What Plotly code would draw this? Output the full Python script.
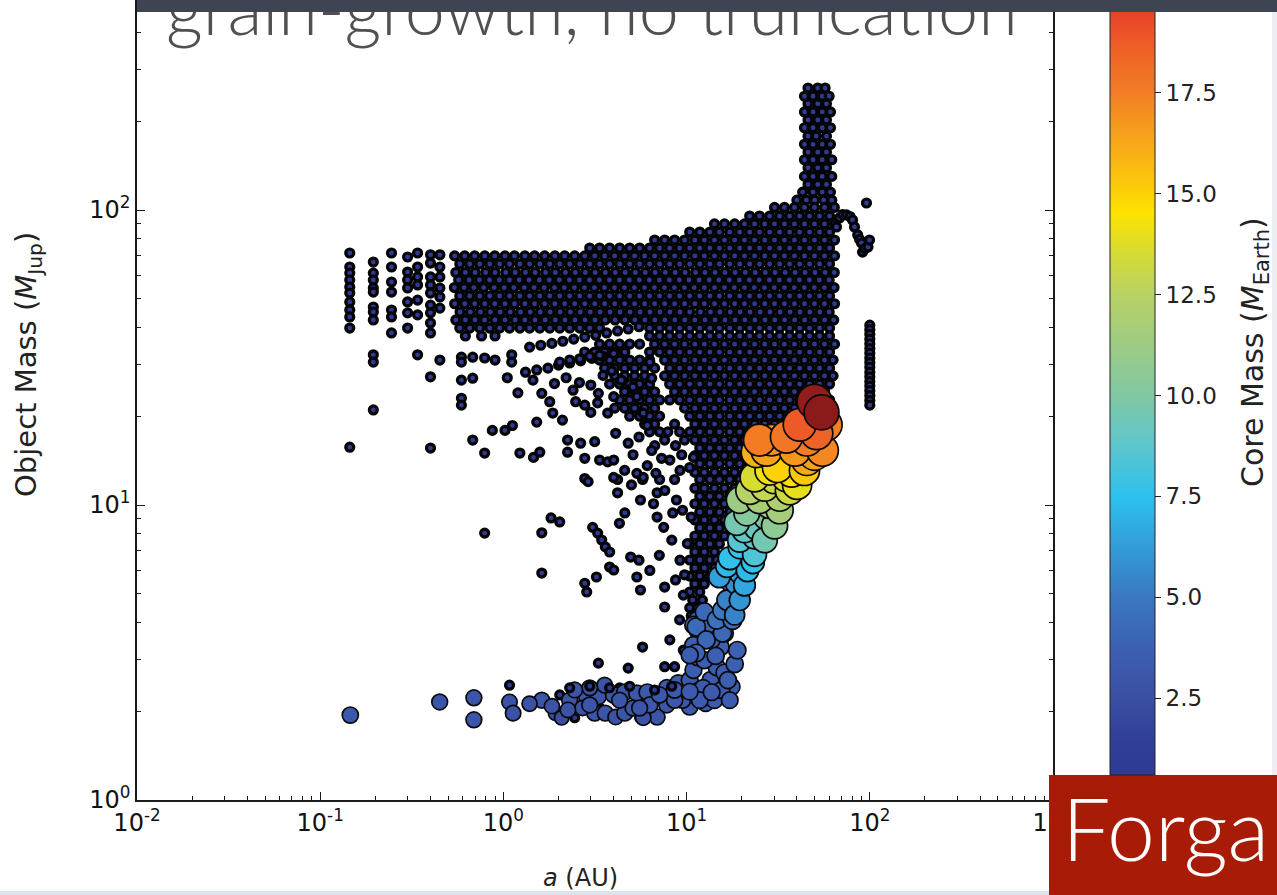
import plotly.graph_objects as go

# ---------------------------------------------------------------- data
XTICK_VALUES = [0.01, 0.1, 1, 10, 100, 1000]
XTICK_LABELS = ["10<sup>-2</sup>", "10<sup>-1</sup>", "10<sup>0</sup>",
                "10<sup>1</sup>", "10<sup>2</sup>", "10<sup>3</sup>"]
YTICK_VALUES = [1, 10, 100]
YTICK_LABELS = ["10<sup>0</sup>", "10<sup>1</sup>", "10<sup>2</sup>"]
CBAR_TICKS = [2.5, 5.0, 7.5, 10.0, 12.5, 15.0, 17.5]
CBAR_LABELS = ["2.5", "5.0", "7.5", "10.0", "12.5", "15.0", "17.5"]

# core mass shared by the low-core (dark) population
LOW_CORE = 0.6

# dense low-core population, one entry per mass level: (object mass, "a values")
CLOUD_ROWS = [
    (259, "46 52 57"),
    (243, "44 49 55 60"),
    (229, "46 52 58"),
    (215, "44 49 55 61"),
    (202, "46 52 58"),
    (190, "44 49 55 61"),
    (178, "46 51 58"),
    (167, "44 49 55 61"),
    (157, "46 52 58"),
    (148, "44 49 55 62"),
    (139, "46 52 58"),
    (130, "44 49 55 62"),
    (122, "46 52 58"),
    (115, "43 49 55 61"),
    (108, "40 45 50 56 62"),
    (102, "30.2 34.2 38.8 44.0 49.9 56.6 64"),
    (95.4, "22.1 25.0 28.4 32.2 36.5 41.4 46.9 53.2 60.3"),
    (89.7, "14.2 16.1 18.3 20.7 23.5 26.7 30.2 34.2 38.8 44.0 49.9 56.6 64.2"),
    (84.2, "10.4 11.8 13.4 15.1 17.2 19.5 22.1 25.0 28.4 32.2 36.5 41.4 46.9 53.2 60.3"),
    (79.1, "6.69 7.59 8.60 9.75 11.1 12.5 14.2 16.1 18.3 20.7 23.5 26.7 30.2 34.2 38.8 44.0 49.9 56.6 64.2"),
    (74.3, "2.96 3.35 3.80 4.31 4.89 5.54 6.28 7.12 8.08 9.16 10.4 11.8 13.4 15.1 17.2 19.5 22.1 25.0 "
           "28.4 32.2 36.5 41.4 46.9 53.2 60.3"),
    (69.9, "0.542 0.615 0.697 0.791 0.897 1.02 1.15 1.31 1.48 1.68 1.91 2.16 2.45 2.78 3.15 3.57 4.05 "
           "4.59 5.20 5.90 6.69 7.59 8.60 9.75 11.1 12.5 14.2 16.1 18.3 20.7 23.5 26.7 30.2 34.2 38.8 "
           "44.0 49.9 56.6 64.2"),
    (65.6, "0.578 0.655 0.743 0.842 0.954 1.08 1.23 1.39 1.58 1.79 2.03 2.30 2.61 2.96 3.35 3.80 4.31 "
           "4.89 5.54 6.28 7.12 8.08 9.16 10.4 11.8 13.4 15.1 17.2 19.5 22.1 25.0 28.4 32.2 36.5 41.4 "
           "46.9 53.2 60.3"),
    (61.4, "0.55 0.62 0.70 0.80 0.90 1.03 1.16 1.32 1.49 1.70 1.92 2.18 2.47 2.80 3.17 3.60 4.08 "
           "4.62 5.25 5.95 6.74 7.65 8.66 9.82 11.2 12.6 14.3 16.2 18.4 20.9 23.7 26.9 30.4 34.5 39.1 "
           "44.3 50.2 57.0 64.0"),
    (57.9, "0.57 0.65 0.74 0.84 0.95 1.08 1.22 1.38 1.57 1.78 2.02 2.29 2.60 2.95 3.34 3.79 4.30 "
           "4.87 5.52 6.26 7.10 8.05 9.13 10.3 11.7 13.3 15.0 17.1 19.4 22.0 24.9 28.3 32.1 36.4 41.3 "
           "46.8 53.0 60.0"),
    (54.6, "0.54 0.61 0.69 0.78 0.89 1.01 1.14 1.30 1.47 1.67 1.90 2.15 2.44 2.77 3.14 3.56 4.04 "
           "4.58 5.19 5.89 6.67 7.57 8.58 9.73 11.0 12.5 14.2 16.1 18.2 20.7 23.4 26.6 30.1 34.2 38.7 "
           "43.9 49.8 56.5 63.8"),
    (51.1, "0.578 0.655 0.743 0.842 0.954 1.08 1.23 1.39 1.58 1.79 2.03 2.30 2.61 2.96 3.35 3.80 4.31 "
           "4.89 5.54 6.28 7.12 8.08 9.16 10.4 11.8 13.4 15.1 17.2 19.5 22.1 25.0 28.4 32.2 36.5 41.4 "
           "46.9 53.2 60.3"),
    (48.1, "0.542 0.615 0.697 0.791 0.897 1.02 1.15 1.31 1.48 1.68 1.91 2.16 2.45 2.78 3.15 3.57 4.05 "
           "4.59 5.20 5.90 6.69 7.59 8.60 9.75 11.1 12.5 14.2 16.1 18.3 20.7 23.5 26.7 30.2 34.2 38.8 "
           "44.0 49.9 56.6 64.2"),
    (45.1, "0.58 0.66 0.75 0.85 0.96 1.09 1.24 1.40 1.59 1.80 2.04 2.32 2.63 2.98 3.37 3.82 4.33 "
           "4.91 5.57 6.31 7.15 8.11 9.20 10.4 11.9 13.5 15.2 17.3 19.6 22.2 25.2 28.5 32.4 36.7 41.6 "
           "47.1 53.4 60.0"),
    (42.4, "0.55 0.62 0.70 0.79 0.90 1.02 1.16 1.31 1.49 1.69 1.92 2.17 2.46 2.79 3.16 3.59 4.07 "
           "4.61 5.22 5.92 6.71 7.61 8.63 9.78 11.1 12.6 14.3 16.2 18.4 20.8 23.6 26.8 30.3 34.3 38.9 "
           "44.1 50.0 56.7 63.5"),
    (39.8, "0.578 0.655 0.743 0.842 0.954 1.08 1.23 1.39 1.58 1.79 2.03 2.30 2.61 2.96 3.35 6.28 7.12 "
           "8.08 9.16 10.4 11.8 13.4 15.1 17.2 19.5 22.1 25.0 28.4 32.2 36.5 41.4 46.9 53.2 60.3"),
    (37.4, "0.62 0.76 0.90 6.28 7.12 8.08 9.16 10.4 11.8 13.4 15.1 17.2 19.5 22.1 25.0 28.4 32.2 36.5 "
           "41.4 46.9 53.2 60.3"),
    (35.1, "3.35 3.80 4.31 4.89 5.54 6.69 7.59 8.60 9.75 11.1 12.5 14.2 16.1 18.3 20.7 23.5 26.7 30.2 "
           "34.2 38.8 44.0 49.9 56.6 64.2"),
    (33.0, "2.78 3.15 3.57 4.05 4.59 6.28 7.12 8.08 9.16 10.4 11.8 13.4 15.1 17.2 19.5 22.1 25.0 28.4 "
           "32.2 36.5 41.4 46.9 53.2 60.3"),
    (31.0, "3.35 3.80 4.31 4.89 5.54 6.28 7.59 8.60 9.75 11.1 12.5 14.2 16.1 18.3 20.7 23.5 26.7 30.2 "
           "34.2 38.8 44.0 49.9 56.6 63"),
    (29.1, "3.57 4.05 4.59 5.20 5.90 6.69 8.08 9.16 10.4 11.8 13.4 15.1 17.2 19.5 22.1 25.0 28.4 32.2 "
           "36.5 41.4 46.9 53.2 60.3"),
    (27.4, "4.05 4.59 5.20 5.90 7.59 8.60 9.75 11.1 12.5 14.2 16.1 18.3 20.7 23.5 26.7 30.2 34.2 38.8 "
           "44.0 49.9 56.6 63"),
    (25.7, "3.80 4.31 4.89 5.54 6.28 8.08 9.16 10.4 11.8 13.4 15.1 17.2 19.5 22.1 25.0 28.4 32.2 36.5 "
           "41.4 46.9 53.2 60.3"),
    (24.2, "4.59 5.20 5.90 6.69 8.60 9.75 11.1 12.5 14.2 16.1 18.3 20.7 23.5 26.7 30.2 34.2 38.8 44.0 "
           "49.9 56.6"),
    (22.7, "4.31 4.89 5.54 6.28 7.12 8.08 9.16 10.4 11.8 13.4 15.1 17.2 19.5 22.1 25.0 28.4 32.2 36.5 "
           "41.4 46.9 53.2 60.3"),
    (21.3, "4.05 4.59 5.20 5.90 6.69 9.75 11.1 12.5 14.2 16.1 18.3 20.7 23.5 26.7 30.2 34.2 38.8 44.0 "
           "49.9 56.6"),
    (20.0, "4.89 5.54 6.28 7.12 10.4 11.8 13.4 15.1 17.2 19.5 22.1 25.0 28.4 32.2 36.5 41.4 46.9 53.2"),
    (18.8, "5.90 6.69 8.60 11.1 12.5 14.2 16.1 18.3 20.7 23.5 26.7 30.2 34.2 38.8 44.0 49.9"),
    (17.7, "6.28 7.12 9.16 10.4 11.8 13.4 15.1 17.2 19.5 22.1 25.0 28.4 32.2 36.5 41.4"),
    (16.6, "7.59 9.75 11.1 12.5 14.2 16.1 18.3 20.7 23.5 26.7 30.2 34.2 38.8"),
    (15.6, "11.8 13.4 15.1 17.2 19.5 22.1 25.0 28.4 32.2"),
    (14.7, "11.1 12.5 14.2 16.1 18.3 20.7 23.5 26.7 30.2"),
    (13.8, "11.8 13.4 15.1 17.2 19.5 22.1 25.0 28.4"),
    (12.9, "11.1 12.5 14.2 16.1 18.3 20.7 23.5 26.7"),
    (12.2, "11.8 13.4 15.1 17.2 19.5 22.1 25.0"),
    (11.4, "11.1 12.5 14.2 16.1 18.3 20.7 23.5"),
    (10.7, "11.8 13.4 15.1 17.2 19.5 22.1"),
    (10.1, "11.1 12.5 14.2 16.1 18.3 20.7"),
    (9.47, "11.8 13.4 15.1 17.2 19.5"),
    (8.90, "11.1 12.5 14.2 16.1 18.3"),
    (8.36, "11.8 13.4 15.1 17.2"),
    (7.85, "11.1 12.5 14.2 16.1"),
    (7.38, "10.4 11.8 13.4 15.1"),
    (6.93, "11.1 12.5 14.2"),
    (6.51, "10.4 11.8 13.4 14.6"),
    (6.12, "11.1 12.5 14.2"),
    (5.74, "10.4 11.8 13.4"),
    (5.40, "11.1 12.5"),
    (5.07, "10.4 11.8"),
    (4.76, "10.8 12.2"),
    (4.48, "10.4 11.5"),
    (4.21, "10.6"),
]

# low-core objects stacked at a single separation: (a, "object masses")
CLOUD_STACKS = [
    (0.145, "71.5 64.1 61.1 57.9 54.8 52.3 48.8 45.8 43.4 39.8 15.7"),
    (0.195, "66.6 61.1 57.9 54.4 52.7 46.9 45.1 42.4 32.3 30.5 21.0"),
    (0.245, "71.5 64.1 57.0 52.7 45.8 43.4 38.3"),
    (0.30, "69.3 61.6 57.9 54.4 48.8 44.8 39.8"),
    (0.34, "71.5 64.1 59.3 55.7 49.5 44.1 32.3"),
    (0.40, "70.5 66.1 59.3 55.7 52.3 47.6 44.8 41.4 38.3 27.2 15.6"),
    (0.45, "70.5 64.1 59.3 54.4 50.7 46.5 31.0"),
    (100, "40.7 39.3 37.9 36.5 35.2 33.9 32.7 31.5 30.4 29.3 28.2 27.2 26.2 25.3 24.4 23.5 22.6 21.8"),
]

# scattered low-core objects: (a, object mass)
CLOUD_SPARSE = [
    (0.59, 31.7), (0.59, 30.5), (0.68, 31.7), (0.79, 31.5), (0.90, 31.0), (1.11, 32.3), (1.11, 30.5),
    (0.59, 26.5), (0.68, 26.9), (0.59, 23.0), (0.59, 21.8),
    (0.87, 17.9), (1.02, 17.9), (1.12, 18.6), (1.52, 19.1), (1.62, 23.9), (1.79, 22.4), (1.86, 20.5),
    (2.10, 19.4), (2.48, 22.4), (2.78, 21.8), (3.27, 22.2), (3.0, 20.6), (3.71, 20.5),
    (0.68, 16.6), (0.79, 15.0), (1.23, 15.0), (1.46, 14.5), (1.58, 15.1), (2.24, 16.6), (2.24, 15.1),
    (2.64, 16.2), (3.15, 16.4), (2.78, 14.4), (3.35, 14.2), (3.71, 14.0), (2.78, 12.3), (2.9, 12.0),
    (1.82, 9.04), (2.03, 8.76), (0.79, 8.03), (1.62, 8.05), (1.62, 5.88), (3.07, 8.40), (3.27, 8.03),
    (3.44, 7.61), (3.60, 7.21), (3.80, 6.93), (3.80, 6.16), (4.0, 6.02), (2.78, 5.43), (3.22, 5.70),
    (2.85, 5.07), (4.95, 6.66), (5.35, 5.70), (5.6, 5.15), (7.59, 5.27), (7.59, 4.51), (5.75, 3.30),
    (3.30, 2.91), (4.8, 2.80), (7.59, 2.83), (8.6, 2.83), (1.08, 2.45),
    (4.0, 14.2), (4.2, 11.0), (4.6, 9.40), (4.3, 8.67), (4.2, 12.2), (4.1, 17.5), (4.8, 16.2),
    (5.1, 14.8), (5.35, 12.8), (5.75, 12.2), (5.6, 10.4), (6.6, 10.1), (7.12, 12.2), (6.9, 9.1),
    (7.5, 8.4), (8.6, 12.2), (8.8, 10.4), (9.5, 9.6), (10.1, 7.4), (10.6, 9.1), (10.9, 14.5),
    (10.4, 13.4), (6.8, 12.8), (6.9, 11.0), (8.4, 9.4), (5.8, 12.4), (4.0, 12.4), (5.8, 20.5),
    (4.4, 26.5), (5.1, 25.1), (5.35, 23.3), (4.0, 23.3), (3.30, 23.9),
    (1.39, 34.3), (1.60, 34.8), (1.84, 35.3), (2.11, 35.9), (2.42, 36.5), (2.78, 37.1), (3.19, 37.6),
    (3.66, 38.3), (4.2, 38.9), (4.8, 39.5), (5.5, 40.2),
    (1.32, 28.2), (1.52, 28.7), (1.75, 29.1), (2.0, 29.8), (2.3, 30.3), (2.64, 30.8), (3.04, 31.4),
    (3.49, 31.9), (4.0, 32.6), (4.6, 33.0),
    (2.03, 30.5), (2.30, 31.0), (2.61, 31.3), (2.96, 31.9), (3.35, 32.2),
    (6.3, 30.5), (6.45, 26.9), (6.1, 18.6), (5.5, 17.0), (6.7, 15.9), (7.3, 14.4), (7.9, 17.7),
    (8.7, 15.9), (9.4, 14.8),
    (2.2, 27.0), (2.6, 26.0), (3.0, 25.5), (3.5, 27.5), (3.9, 28.5), (2.4, 24.5),
    (1.9, 25.8), (1.45, 26.5), (1.2, 24.0), (1.05, 27.0),
    (4.59, 13.1), (5.0, 11.7), (6.1, 13.6), (6.45, 15.3), (8.1, 14.2), (9.2, 13.1), (7.6, 11.2),
    (8.3, 7.6), (7.1, 6.75), (6.3, 6.0), (5.5, 6.5), (9.2, 6.5), (8.7, 5.57), (9.75, 5.8),
    (9.6, 4.95), (9.16, 4.08), (8.1, 3.49), (9.6, 3.22),
    (65.8, 87.6), (68.3, 94.0), (71, 96.5), (74.6, 96.2), (78, 95), (80.5, 92.5), (82.5, 87.6),
    (85.9, 82.3), (88, 79.5), (90.1, 77.3), (91.3, 72.0), (94, 74), (97.7, 74.9), (99.6, 79.1),
    (95.9, 105.6),
    (2.03, 2.27), (2.61, 2.36), (4.31, 2.40), (6.28, 2.36), (3.35, 2.05), (2.45, 1.90), (5.54, 1.90),
]

# objects with moderate cores along the inner branch: (a, object mass, core mass)
BRANCH_OBJECTS = [
    (0.146, 1.94, 3.2), (0.449, 2.15, 3.0), (0.69, 2.22, 3.0), (0.69, 1.87, 3.0), (1.08, 2.15, 2.8),
    (1.13, 1.97, 2.8), (1.62, 2.18, 3.0), (1.93, 1.97, 2.5), (2.08, 1.90, 2.4), (2.30, 2.18, 3.0),
    (2.85, 2.22, 3.0), (3.30, 2.24, 3.0), (3.15, 1.97, 3.0), (3.6, 1.97, 3.0), (4.1, 1.91, 2.8),
    (4.6, 1.97, 3.0), (4.0, 2.27, 3.2), (4.6, 2.32, 3.2), (5.35, 2.30, 3.2), (6.1, 2.32, 3.3),
    (6.9, 1.91, 3.0), (5.8, 1.90, 2.8), (7.8, 2.40, 3.3), (9.0, 2.49, 3.4), (10.0, 2.23, 3.4),
    (10.4, 2.55, 3.5), (10.9, 2.76, 3.5), (10.4, 2.07, 3.3), (11.5, 3.05, 3.6), (11.5, 3.40, 3.7),
    (11.5, 3.77, 3.8), (11.5, 4.08, 3.9), (12.7, 2.13, 3.4), (13.5, 2.55, 3.5), (14.6, 2.82, 3.6),
    (15.3, 3.30, 3.8), (16.1, 3.68, 4.0), (16.9, 4.08, 4.2), (15.3, 4.30, 4.3), (16.1, 2.70, 3.6),
    (17.6, 2.42, 3.5), (9.5, 2.18, 3.2), (7.8, 2.10, 3.0), (5.1, 2.05, 3.0), (2.7, 2.05, 2.8),
    (2.25, 2.02, 2.8), (6.3, 2.10, 3.1), (8.6, 2.18, 3.2), (11.8, 2.36, 3.4), (14.2, 2.18, 3.4),
    (12.5, 2.98, 3.6), (13.7, 3.49, 3.7), (13.0, 3.92, 3.9), (14.4, 3.08, 3.7), (12.3, 2.40, 3.4),
    (15.5, 2.36, 3.4), (10.9, 3.35, 3.7), (10.9, 3.92, 3.8), (3.57, 2.45, 2.9), (2.96, 2.40, 2.9),
    (11.3, 3.86, 4.3), (12.8, 3.49, 4.1), (15.7, 3.68, 4.2), (11.3, 3.15, 3.9),
    (2.45, 2.36, 2.9), (2.96, 2.10, 3.0), (4.31, 2.18, 3.0), (5.54, 2.05, 3.0), (7.12, 2.27, 3.2),
    (8.6, 2.36, 3.3), (11.8, 2.18, 3.4), (13.7, 2.32, 3.4), (16.8, 2.55, 3.6), (18.3, 2.89, 3.7),
    (18.9, 3.22, 3.8), (12.5, 4.34, 4.2), (10.4, 3.1, 3.6), (10.4, 2.33, 3.4), (17.2, 2.18, 3.4),
    (1.84, 2.08, 2.7), (1.39, 2.12, 2.7),
]

# small low-core objects lying on top of the inner branch: (a, object mass)
BRANCH_TOP = [
    (2.30, 2.40), (2.96, 2.43), (3.80, 2.40), (4.89, 2.43), (6.69, 2.36), (8.3, 2.43),
]

# massive-core objects on the outer edge: (a, object mass, core mass)
CORE_OBJECTS = [
    (14.6, 4.08, 4.6), (17.8, 4.08, 4.7), (15.7, 4.4, 5.0), (17.8, 4.6, 5.2), (16.6, 4.76, 5.4),
    (18.5, 4.88, 4.8), (17.6, 5.43, 5.2), (18.6, 5.4, 5.8), (19.0, 6.16, 5.8), (15.1, 5.7, 6.4),
    (19.5, 5.9, 6.6), (16.6, 6.2, 7.2), (17.2, 6.6, 7.6), (23.0, 6.4, 7.6), (19.5, 7.6, 8.6),
    (23.5, 7.8, 8.8), (18.8, 8.7, 9.6), (24.1, 8.4, 9.2), (21.3, 9.4, 10.2), (27.3, 9.1, 10.0),
    (19.5, 10.4, 11.2), (28.4, 10.0, 11.5), (22.1, 11.2, 12.4), (32.2, 10.6, 12.0), (26.7, 11.5, 12.8),
    (23.5, 12.4, 13.6), (35.1, 12.4, 13.8), (28.4, 13.1, 14.2), (31.3, 13.4, 15.0), (37.4, 12.9, 14.6),
    (24.1, 15.1, 16.0), (45.3, 14.2, 16.2), (27.3, 15.3, 16.5), (29.2, 16.6, 17.0), (55.2, 15.3, 17.2),
    (45.3, 16.6, 17.5), (25.0, 16.6, 17.6), (41.4, 18.7, 18.8), (51.2, 17.5, 18.5), (35.1, 17.0, 17.8),
    (39, 15.3, 16.8), (49.9, 14.8, 16.4), (44.0, 13.1, 15.3), (40.1, 11.7, 14.0), (36.5, 11.2, 13.2),
    (32.2, 9.6, 11.6), (30.2, 8.5, 10.6), (26.7, 7.6, 9.6), (23.5, 6.8, 8.4), (21.5, 6.0, 7.2),
    (20.7, 5.35, 6.6), (19.5, 4.76, 6.0), (18.3, 4.24, 5.4), (20.7, 8.2, 9.0), (25.0, 10.4, 11.8),
    (30.2, 12.2, 13.0), (48, 18.7, 18.0), (57.8, 18.7, 17.5), (19.5, 7.2, 7.8),
    (49.9, 22.4, 21.8), (54.5, 20.6, 22.0),
]

# colour scale anchors: (core mass, colour)
CORE_COLOURS = [
    (0.6, "#2f3a95"), (1.5, "#313f98"), (2.5, "#3b4fa3"), (3.7, "#3c5fb2"), (5.0, "#3a78c0"),
    (6.4, "#32a0dc"), (7.5, "#2cc2ee"), (8.8, "#5ec6cc"), (10.0, "#80c8a4"), (11.2, "#9ccb86"),
    (12.5, "#b8d264"), (13.6, "#d8dc30"), (14.5, "#fde300"), (15.4, "#fbc40c"), (16.5, "#f6a01c"),
    (17.5, "#f27e24"), (18.6, "#ee6026"), (19.5, "#e8432a"), (20.7, "#c0302a"), (22.0, "#8b1a1a"),
]
CMIN, CMAX = 0.6, 22.0

# ---------------------------------------------------------------- assemble points
low_a, low_m = [], []
for mass, row in CLOUD_ROWS:
    for tok in row.split():
        low_a.append(float(tok)); low_m.append(mass)
for a, col in CLOUD_STACKS:
    for tok in col.split():
        low_a.append(a); low_m.append(float(tok))
for a, m in CLOUD_SPARSE:
    low_a.append(a); low_m.append(m)

branch_a = [p[0] for p in BRANCH_OBJECTS]
branch_m = [p[1] for p in BRANCH_OBJECTS]
branch_c = [p[2] for p in BRANCH_OBJECTS]

core_sorted = sorted(CORE_OBJECTS, key=lambda t: t[2])
core_a = [p[0] for p in core_sorted]
core_m = [p[1] for p in core_sorted]
core_c = [p[2] for p in core_sorted]


def marker_size(c):
    # marker diameter grows with core mass
    return 10.6 * c ** 0.39 - 0.5


colorscale = [[(v - CMIN) / (CMAX - CMIN), col] for v, col in CORE_COLOURS]
shared = dict(colorscale=colorscale, cmin=CMIN, cmax=CMAX, opacity=1)

# ---------------------------------------------------------------- layout geometry
W, H = 1277, 895
ML, MR, MT, MB = 137, 224, 0, 95
PW, PH = W - ML - MR, H - MT - MB


def fx(px):
    return (px - ML) / PW


def fy(py):
    return (H - MB - py) / PH


Y_TOP = (H - MB) / 295.0  # log10 of the mass at the top edge of the plot

fig = go.Figure()
# low-core population: small dots with heavy dark rims
fig.add_trace(go.Scatter(
    x=low_a, y=low_m, mode="markers", hoverinfo="skip", showlegend=False,
    marker=dict(size=8, color=[LOW_CORE] * len(low_a), **shared,
                line=dict(color="#050505", width=3.2), showscale=False),
))
fig.add_trace(go.Scatter(
    x=branch_a, y=branch_m, mode="markers", hoverinfo="skip", showlegend=False,
    marker=dict(size=[marker_size(c) for c in branch_c], color=branch_c, **shared,
                line=dict(color="#0a0a0a", width=1.7), showscale=False),
))
fig.add_trace(go.Scatter(
    x=[p[0] for p in BRANCH_TOP], y=[p[1] for p in BRANCH_TOP], mode="markers",
    hoverinfo="skip", showlegend=False,
    marker=dict(size=8, color=[LOW_CORE] * len(BRANCH_TOP), **shared,
                line=dict(color="#050505", width=3.2), showscale=False),
))
fig.add_trace(go.Scatter(
    x=core_a, y=core_m, mode="markers", hoverinfo="skip", showlegend=False,
    marker=dict(
        size=[marker_size(c) for c in core_c], color=core_c, **shared,
        line=dict(color="#0a0a0a", width=1.7),
        showscale=True,
        colorbar=dict(
            x=fx(1110), xanchor="left", xpad=0,
            y=fy(775), yanchor="bottom", ypad=0,
            lenmode="pixels", len=775 + 88.5,
            thicknessmode="pixels", thickness=45,
            outlinewidth=1, outlinecolor="#222222",
            tickmode="array", tickvals=CBAR_TICKS, ticktext=CBAR_LABELS,
            ticks="outside", ticklen=6, tickwidth=1.2, tickcolor="#222222",
            tickfont=dict(family="DejaVu Sans", size=23, color="#222222"),
        ),
    ),
))

minor_x = [k * 10.0 ** e for e in range(-2, 3) for k in range(2, 10)]
minor_y = [k * 10.0 ** e for e in range(0, 3) for k in range(2, 10) if k * 10.0 ** e < 520]

axis_common = dict(
    type="log", showgrid=False, zeroline=False,
    showline=True, linecolor="#1a1a1a", linewidth=1.6, mirror="ticks",
    ticks="inside", ticklen=8, tickwidth=1.1, tickcolor="#1a1a1a",
    tickfont=dict(family="DejaVu Sans", size=24, color="#111111"),
    tickmode="array",
)
fig.update_xaxes(
    **axis_common, range=[-2, 3], tickvals=XTICK_VALUES, ticktext=XTICK_LABELS,
    minor=dict(tickmode="array", tickvals=minor_x, ticks="inside", ticklen=4,
               tickwidth=1, tickcolor="#1a1a1a"),
)
fig.update_yaxes(
    **axis_common, range=[0, Y_TOP], tickvals=YTICK_VALUES, ticktext=YTICK_LABELS,
    minor=dict(tickmode="array", tickvals=minor_y, ticks="inside", ticklen=4,
               tickwidth=1, tickcolor="#1a1a1a"),
)

annotations = [
    dict(text="Object Mass (<i>M</i><sub>Jup</sub>)", textangle=-90,
         x=fx(28), y=fy(365), xanchor="center", yanchor="middle",
         font=dict(family="DejaVu Sans", size=29, color="#222222")),
    dict(text="<i>a</i> (AU)", x=fx(580), y=fy(878), xanchor="center", yanchor="middle",
         font=dict(family="DejaVu Sans", size=24, color="#222222")),
    dict(text="Core Mass (<i>M</i><sub>Earth</sub>)", textangle=-90,
         x=fx(1255), y=fy(352), xanchor="center", yanchor="middle",
         font=dict(family="DejaVu Sans", size=30, color="#222222")),
    dict(text="grain-growth, no truncation", x=fx(164), y=fy(7), xanchor="left",
         yanchor="middle",
         font=dict(family="Lato", size=72, color="#505050", weight=300)),
    # dark header band over the top of the slide
    dict(text=" ", x=fx(137), y=fy(0), xanchor="left", yanchor="top",
         width=W - 137, height=12, bgcolor="#3e4452", borderpad=0, borderwidth=0,
         showarrow=False),
    dict(text="Forga", x=fx(1060), y=fy(827), xanchor="left", yanchor="middle",
         font=dict(family="Lato", size=86, color="white", weight=300)),
]
for ann in annotations:
    ann.setdefault("showarrow", False)
    ann["xref"] = "paper"
    ann["yref"] = "paper"

shapes = [
    dict(type="rect", xref="paper", yref="paper", x0=fx(0), x1=fx(1049), y0=fy(900), y1=fy(891),
         fillcolor="#dde3ea", line=dict(width=0), layer="above"),
    dict(type="rect", xref="paper", yref="paper", x0=fx(1272), x1=fx(1280), y0=fy(775), y1=fy(12),
         fillcolor="#eceef1", line=dict(width=0), layer="above"),
    dict(type="rect", xref="paper", yref="paper", x0=fx(1049), x1=fx(1280), y0=fy(900), y1=fy(775),
         fillcolor="#a81c07", line=dict(width=0), layer="above"),
]

fig.update_layout(
    width=W, height=H,
    margin=dict(l=ML, r=MR, t=MT, b=MB, autoexpand=False),
    paper_bgcolor="white", plot_bgcolor="white",
    font=dict(family="DejaVu Sans"),
    annotations=annotations, shapes=shapes,
)

fig.write_html("out.html")
